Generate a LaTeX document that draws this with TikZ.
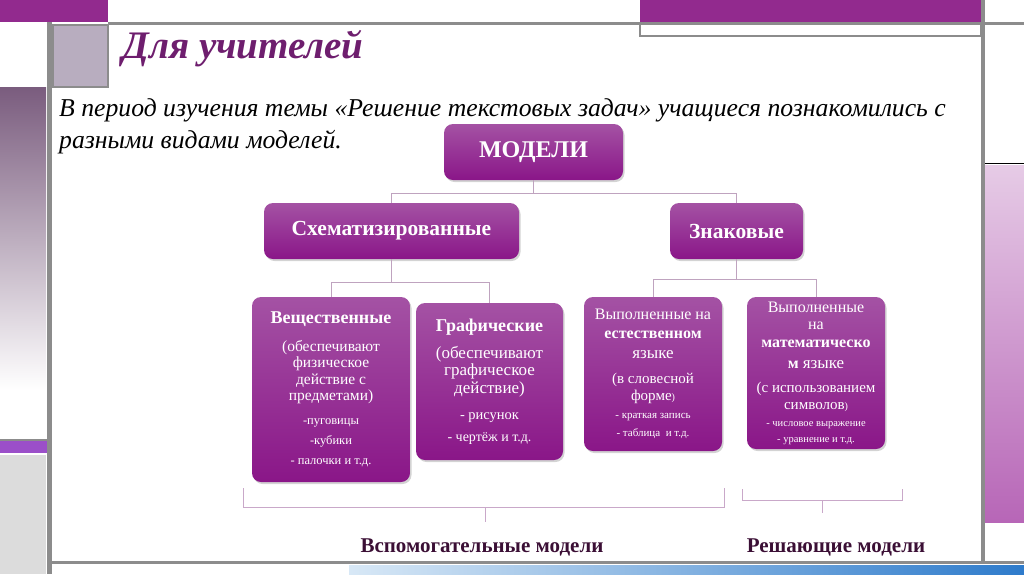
\documentclass[tikz,border=0pt]{standalone}
\usepackage{fontspec}
\setmainfont{Liberation Serif}
\usetikzlibrary{positioning, shadows}

\definecolor{barpurple}{HTML}{922A8E}
\definecolor{framegray}{HTML}{8C8C8C}
\definecolor{sqgray}{HTML}{B8ADBF}
\definecolor{leftgrad}{HTML}{7A5C7E}
\definecolor{violetstrip}{HTML}{9B4FC9}
\definecolor{panelgray}{HTML}{DCDCDC}
\definecolor{pinktop}{HTML}{E6CBE6}
\definecolor{pinkbot}{HTML}{B766B7}
\definecolor{bluel}{HTML}{D8E8F6}
\definecolor{bluer}{HTML}{2E7BCB}
\definecolor{boxtop}{HTML}{A452A4}
\definecolor{boxbot}{HTML}{8A1688}
\definecolor{linecol}{HTML}{BFA3BF}
\definecolor{brkcol}{HTML}{C9A8C9}
\definecolor{lblcol}{HTML}{3B0F35}
\definecolor{titlecol}{HTML}{6E1E6E}

\begin{document}
\begin{tikzpicture}[
    x=1pt, y=-1pt,
    mbox/.style={rounded corners=9pt, top color=boxtop, bottom color=boxbot, draw=none,
        text=white, align=center, inner sep=2pt,
        drop shadow={shadow xshift=1.5pt, shadow yshift=-2pt, opacity=0.35}},
    conn/.style={draw=linecol, line width=0.9pt},
    brk/.style={draw=brkcol, line width=0.9pt},
    lbl/.style={font=\fontsize{21}{24}\selectfont\bfseries, text=lblcol}
]
\useasboundingbox (0,0) rectangle (1024,574);

% slide frame
\fill[barpurple] (0,0) rectangle (108,22);
\fill[barpurple] (640,0) rectangle (981,22);
\draw[framegray, line width=1.5pt] (640,24) rectangle (981,36);
\filldraw[fill=sqgray, draw=framegray, line width=1.5pt] (53,25) rectangle (108,87);
\shade[top color=leftgrad, bottom color=white] (0,87) rectangle (46,390);
\fill[violetstrip] (0,441) rectangle (48,453);
\fill[panelgray] (0,455) rectangle (46,574);
\draw[framegray, line width=2pt] (0,440) -- (48,440);
\shade[top color=pinktop, bottom color=pinkbot] (985,165) rectangle (1024,522);
\draw[black, line width=1.5pt] (985,163.5) -- (1024,163.5);
\shade[left color=bluel, right color=bluer] (349,565) rectangle (1024,574);
\draw[framegray, line width=3pt] (108,23.5) -- (1024,23.5);
\draw[framegray, line width=3pt] (47,562.5) -- (1024,562.5);
\draw[framegray, line width=5pt] (49.5,22) -- (49.5,574);
\draw[framegray, line width=4pt] (983,0) -- (983,564);

% title and intro
\node[font=\fontsize{39}{42}\selectfont\itshape\bfseries, text=titlecol, anchor=west] (title) at (119,49) {Для учителей};
\node[font=\fontsize{25.7}{32}\selectfont\itshape, anchor=west, align=left, inner sep=0pt] (intro) at (59,126)
    {В период изучения темы «Решение текстовых задач» учащиеся познакомились с\\разными видами моделей.};

% boxes
\node[mbox, minimum width=179pt, minimum height=56pt, font=\fontsize{24}{28}\selectfont\bfseries] (models) at (533.5,152) {МОДЕЛИ};
\node[mbox, minimum width=255pt, minimum height=56pt, font=\fontsize{21.5}{24}\selectfont\bfseries] (schem) at (391.5,231) {Схематизированные};
\node[mbox, minimum width=133pt, minimum height=56pt, font=\fontsize{21.5}{24}\selectfont\bfseries] (znak) at (736.5,231) {Знаковые};

\node[mbox, minimum width=158pt, minimum height=185pt, font=\fontsize{15.5}{16.5}\selectfont] (vesch) at (331,389.5)
    {{\bfseries\fontsize{18}{16.5}\selectfont Вещественные}\\[11pt]
     (обеспечивают\\ физическое\\ действие с\\ предметами)\\[7.5pt]
     {\fontsize{12.5}{16.5}\selectfont -пуговицы}\\[3.5pt]
     {\fontsize{12.5}{16.5}\selectfont -кубики}\\[3.5pt]
     {\fontsize{12.5}{16.5}\selectfont - палочки и т.д.}};
\node[mbox, minimum width=147pt, minimum height=157pt, font=\fontsize{17}{17.5}\selectfont] (graf) at (489.5,381.5)
    {{\bfseries\fontsize{18}{17.5}\selectfont Графические}\\[9.5pt]
     (обеспечивают\\ графическое\\ действие)\\[8.5pt]
     {\fontsize{14.5}{17.5}\selectfont - рисунок}\\[4.5pt]
     {\fontsize{14}{17.5}\selectfont - чертёж и т.д.}};
\node[mbox, minimum width=138pt, minimum height=154pt, font=\fontsize{16}{18}\selectfont] (estest) at (653,374)
    {Выполненные на\\[1pt]
     {\bfseries естественном}\\[2pt]
     {\fontsize{17}{18}\selectfont языке}\\[7pt]
     {\fontsize{15}{18}\selectfont (в словесной}\\[-1pt]
     {\fontsize{15}{18}\selectfont форме{\fontsize{10}{18}\selectfont)}}\\
     {\fontsize{11}{18}\selectfont - краткая запись}\\
     {\fontsize{11}{18}\selectfont - таблица\ \ и т.д.}};
\node[mbox, minimum width=138pt, minimum height=152pt, font=\fontsize{16}{17}\selectfont] (matem) at (816,373)
    {Выполненные\\ на\\[1pt]
     {\bfseries математическо}\\[4pt]
     {\bfseries м {\mdseries\fontsize{17}{17}\selectfont языке}}\\[7pt]
     {\fontsize{15}{17}\selectfont (с использованием}\\
     {\fontsize{15}{17}\selectfont символов{\fontsize{10}{17}\selectfont)}}\\
     {\fontsize{10.5}{17}\selectfont - числовое выражение}\\[-1pt]
     {\fontsize{10.5}{17}\selectfont - уравнение и т.д.}};

% tree lines
\draw[conn] (models.south) -- ++(0,13) coordinate (splitA);
\draw[conn] (splitA) -| (schem.north);
\draw[conn] (splitA) -| (znak.north);
\draw[conn] (schem.south) -- ++(0,23) coordinate (splitB);
\draw[conn] (splitB) -| (vesch.north);
\draw[conn] (splitB) -| (graf.north);
\draw[conn] (znak.south) -- ++(0,20) coordinate (splitC);
\draw[conn] (splitC) -| (estest.north);
\draw[conn] (splitC) -| (matem.north);

% brackets
\coordinate (brA) at (485,507);
\coordinate (brB) at (822,500);
\draw[brk] (243,488) -- (243,507) -- (724,507) -- (724,488);
\draw[brk] (brA) -- ++(0,15) coordinate (tipA);
\draw[brk] (742,489) -- (742,500) -- (902,500) -- (902,489);
\draw[brk] (brB) -- ++(0,13) coordinate (tipB);

\node[lbl] (aux) at (482,547) {Вспомогательные модели};
\node[lbl] (solve) at (836,547) {Решающие модели};
\end{tikzpicture}
\end{document}
